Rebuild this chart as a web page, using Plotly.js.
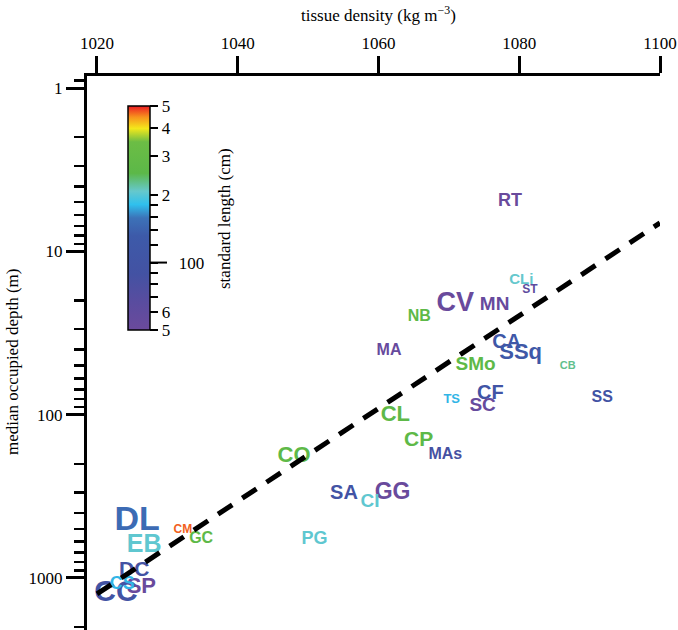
<!DOCTYPE html>
<html>
<head>
<meta charset="utf-8">
<script src="https://cdn.plot.ly/plotly-3.0.1.min.js"></script>
<style>html,body{margin:0;padding:0;background:#fff}#chart{width:678px;height:630px}</style>
</head>
<body>
<div id="chart"></div>
<script>
// ---- data ----
const species   = ["DL","EB","CM","GC","PG","CO","SA","GG","CI","CL","CP","MAs","MA","NB","CV","MN","RT","CLi","ST","CA","SSq","SMo","CB","TS","CF","SC","SS","CC","DC","SP","CS"];
const density   = [1025.7,1026.7,1032.2,1034.8,1050.9,1048.0,1055.1,1062.0,1058.8,1062.4,1065.7,1069.5,1061.5,1065.8,1070.9,1076.5,1078.7,1080.3,1081.5,1078.2,1080.2,1073.8,1086.9,1070.4,1075.9,1074.8,1091.8,1022.7,1025.3,1026.3,1023.6];
const depth     = [453,636,508,576,585,181,305,305,342,101,144,176,40.5,25.4,21.1,21.4,4.93,15.1,17.3,36.2,42.3,50.0,50.8,80.9,74.3,89.3,78.7,1254,906,1152,1104];
const stdLength = [150,205,468,262,205,262,95,52,205,262,262,85,53,262,52,53,52,208,62,115,118,262,228,178,100,54,95,95,90,52,178];
const labelSize = [34,25,12,16,18,22,20,23,19,22,21,16,16,16,27,19,18,15,12,20,22,19,11,13,20,19,16,30,21,22,18];

const fitDensity = [1020, 1100];
const fitDepth   = [1254, 6.7];

const cbTickVals = [500,400,300,200,180,160,140,120,100,90,80,70,60,50];
const cbTickText = ["5","4","3","2","","","","","\u2003100","","","","6","5"];
const cbLongTick = 100;

const xTickVals = [1020,1040,1060,1080,1100];
const yTickVals = [1,10,100,1000];

// ---- colour scale ----
const colorscale = [
  [0.00,'#6b4a9c'],[0.12,'#5a4c9f'],[0.25,'#4352a3'],[0.42,'#3d5aa9'],
  [0.50,'#3c72b8'],[0.56,'#2fc0ee'],[0.62,'#66c8cc'],[0.70,'#5cb848'],
  [0.84,'#6cbd45'],[0.90,'#f4e81b'],[0.95,'#f7941d'],[1.00,'#ec1c24']
];
const cmin = Math.log10(50), cmax = Math.log10(500);
const logSL = stdLength.map(v => Math.log10(v));

function hex2rgb(h){return [parseInt(h.slice(1,3),16),parseInt(h.slice(3,5),16),parseInt(h.slice(5,7),16)];}
function scaleColor(v){
  let t = (v - cmin)/(cmax - cmin); t = Math.max(0, Math.min(1, t));
  for(let i=1;i<colorscale.length;i++){
    if(t <= colorscale[i][0]){
      const [t0,c0] = colorscale[i-1], [t1,c1] = colorscale[i];
      const f = (t - t0)/(t1 - t0);
      const a = hex2rgb(c0), b = hex2rgb(c1);
      return 'rgb(' + a.map((x,k)=>Math.round(x + (b[k]-x)*f)).join(',') + ')';
    }
  }
  return colorscale[colorscale.length-1][1];
}
const textColors = logSL.map(scaleColor);

const serif = 'Liberation Serif, Times New Roman, serif';
const PT = 76, PH = 554, PL = 87, PW = 573; // plot-area geometry used for paper positions
const CB_LEFT = 128, CB_TOP = 106, CB_LEN = 224, CB_THICK = 22;
const cbTopPaper = 1 - (CB_TOP-PT)/PH;
const tLong = (Math.log10(cbLongTick) - cmin)/(cmax - cmin);
const yLongPaper = cbTopPaper - (1 - tLong)*CB_LEN/PH;

const traces = [
  {
    type:'scatter', mode:'markers', x:density, y:depth,
    hoverinfo:'skip', showlegend:false,
    marker:{size:1, opacity:0, color:logSL, colorscale:colorscale, cmin:cmin, cmax:cmax, showscale:true,
      colorbar:{
        xref:'paper', yref:'paper',
        x: (CB_LEFT-PL)/PW, xanchor:'left', xpad:0,
        y: cbTopPaper, yanchor:'top', ypad:0,
        len: CB_LEN, lenmode:'pixels',
        thickness: CB_THICK, thicknessmode:'pixels',
        outlinewidth: 1.5, outlinecolor:'black', borderwidth:0,
        ticks:'outside', tickcolor:'black', tickwidth:2, ticklen:8,
        tickmode:'array', tickvals:cbTickVals.map(Math.log10), ticktext:cbTickText,
        tickfont:{family:serif, size:17, color:'black'}
      }}
  },
  {
    type:'scatter', mode:'text', x:density, y:depth, text:species,
    textposition:'middle center', cliponaxis:false, hoverinfo:'skip', showlegend:false,
    textfont:{family:'Liberation Sans, Arial, sans-serif', weight:'bold', size:labelSize, color:textColors}
  },
  {
    type:'scatter', mode:'lines', x:fitDensity, y:fitDepth, hoverinfo:'skip', showlegend:false,
    line:{color:'black', width:5, dash:'17px,12px'}
  }
];

const layout = {
  width:678, height:630,
  margin:{l:PL, r:18, t:PT, b:0, pad:0, autoexpand:false},
  paper_bgcolor:'white', plot_bgcolor:'white',
  showlegend:false,
  xaxis:{
    side:'top', range:[1018.58, 1100], tickmode:'array', tickvals:xTickVals,
    ticks:'outside', ticklen:17, tickwidth:3, tickcolor:'black',
    showline:true, linewidth:3, linecolor:'black', mirror:false,
    showgrid:false, zeroline:false, automargin:false,
    tickfont:{family:serif, size:17, color:'black'}
  },
  yaxis:{
    type:'log', range:[3.319, -0.0736],
    tickmode:'array', tickvals:yTickVals, ticktext:yTickVals.map(String),
    ticks:'outside', ticklen:18, tickwidth:3, tickcolor:'black',
    minor:{ticks:'outside', ticklen:10, tickwidth:2.5, tickcolor:'black', dtick:'D1', showgrid:false},
    showline:true, linewidth:3, linecolor:'black',
    showgrid:false, zeroline:false, automargin:false,
    tickfont:{family:serif, size:17, color:'black'}
  },
  shapes:[
    {type:'line', xref:'paper', yref:'paper', layer:'above',
     x0:(CB_LEFT+CB_THICK-PL)/PW, x1:(CB_LEFT+CB_THICK+17-PL)/PW, y0:yLongPaper, y1:yLongPaper,
     line:{color:'black', width:2}}
  ],
  annotations:[
    {xref:'paper', yref:'paper', x:(378-PL)/PW, y:1+(PT-14)/PH, text:'tissue density (kg m<sup>−3</sup>)',
     showarrow:false, font:{family:serif, size:17, color:'black'}, xanchor:'center', yanchor:'middle'},
    {xref:'paper', yref:'paper', x:(12-PL)/PW, y:1-(362-PT)/PH, text:'median occupied depth (m)', textangle:-90,
     showarrow:false, font:{family:serif, size:17, color:'black'}, xanchor:'center', yanchor:'middle'},
    {xref:'paper', yref:'paper', x:(224-PL)/PW, y:1-(219-PT)/PH, text:'standard length (cm)', textangle:-90,
     showarrow:false, font:{family:serif, size:17, color:'black'}, xanchor:'center', yanchor:'middle'}
  ]
};

Plotly.newPlot('chart', traces, layout, {displayModeBar:false, staticPlot:true});
</script>
</body>
</html>
